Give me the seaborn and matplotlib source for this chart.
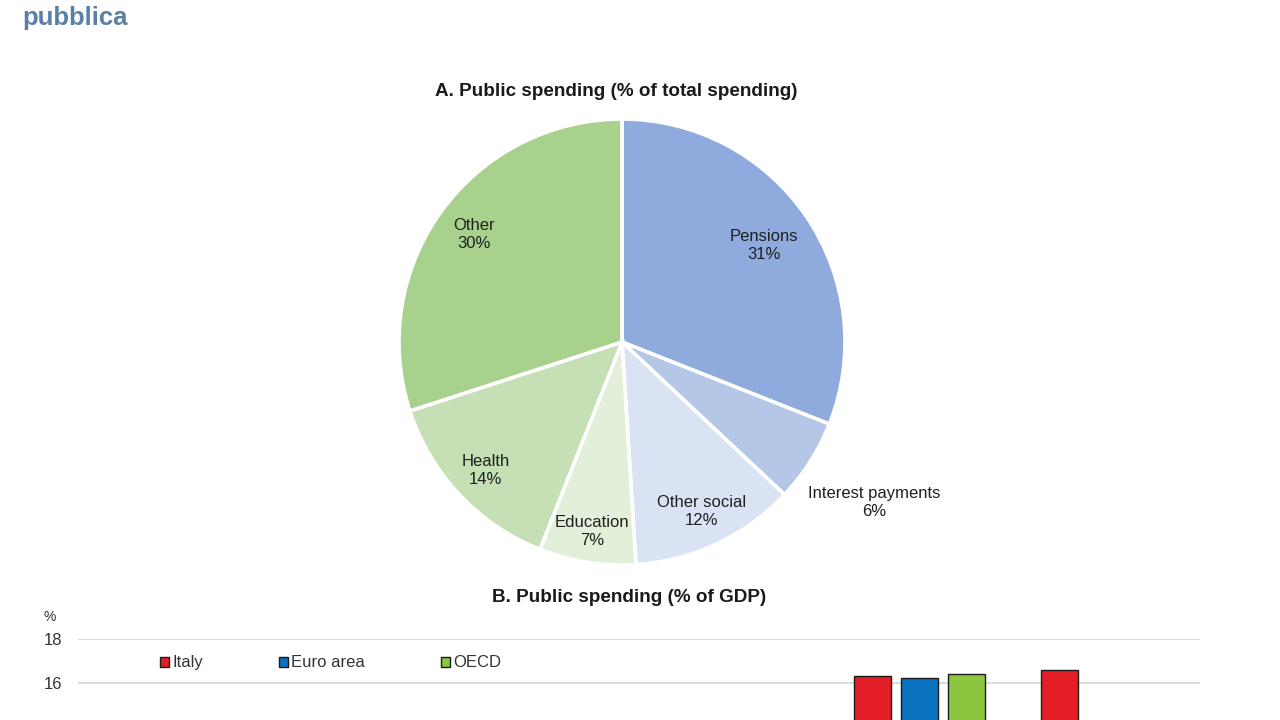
import numpy as np
import pandas as pd
import matplotlib
matplotlib.use("Agg")
import matplotlib.pyplot as plt
import seaborn as sns

# ---------------- data ----------------
page_title = "pubblica"
pie_title = "A. Public spending (% of total spending)"
pie_labels = ["Pensions", "Interest payments", "Other social", "Education", "Health", "Other"]
pie_values = [31, 6, 12, 7, 14, 30]

bar_title = "B. Public spending (% of GDP)"
bar_categories = ["Interest payments", "Education", "Health", "Other social", "Other", "Pensions"]
italy_values = [3.8, 3.9, 6.8, 5.9, 16.34, 16.61]
euro_values = [1.9, 4.6, 7.0, 8.1, 16.24, 12.3]
oecd_values = [1.7, 5.0, 6.4, 6.5, 16.43, 7.9]
series_names = ["Italy", "Euro area", "OECD"]
y_ticks = [14, 16, 18]

# ---------------- style ----------------
sns.set_theme(style="white")
plt.rcParams["font.family"] = ["Liberation Sans", "DejaVu Sans"]

pie_colors = ["#8faadc", "#b4c7e7", "#dae3f3", "#e2f0d9", "#c5e0b4", "#a9d18e"]
bar_colors = ["#e31e26", "#0b72bf", "#8cc63f"]

fig = plt.figure(figsize=(12.8, 7.2), dpi=100)

# page title
fig.text(22 / 1280, 1 - 18 / 720, page_title, fontsize=18.5, fontweight="bold",
         color="#5b80a8", ha="left", va="center")

# ---------------- pie ----------------
axp = fig.add_axes([399 / 1280, (720 - 565) / 720, 446 / 1280, 446 / 720])
wedges, _ = axp.pie(pie_values, colors=pie_colors, startangle=90, counterclock=False,
                    radius=1.0, wedgeprops=dict(edgecolor="white", linewidth=2.6))
axp.set_xlim(-1, 1)
axp.set_ylim(-1, 1)
axp.set_aspect("equal")
axp.axis("off")

label_dist = [0.77, 1.34, 0.84, 0.86, 0.84, 0.82]
for w, lab, val, d in zip(wedges, pie_labels, pie_values, label_dist):
    ang = np.deg2rad((w.theta1 + w.theta2) / 2)
    axp.text(d * np.cos(ang), d * np.sin(ang), f"{lab}\n{val}%", ha="center", va="center",
             fontsize=12, color="#1f1f1f", linespacing=1.25)

fig.text(616 / 1280, 1 - 91 / 720, pie_title, fontsize=13.6, fontweight="bold",
         color="#1a1a1a", ha="center", va="center")

# ---------------- bars ----------------
fig.text(629 / 1280, 1 - 598 / 720, bar_title, fontsize=13.6, fontweight="bold",
         color="#1a1a1a", ha="center", va="center")

top_px, unit_px = 639, 22.15
axb = fig.add_axes([78 / 1280, (720 - (top_px + 18 * unit_px)) / 720,
                    1122 / 1280, 18 * unit_px / 720])

df = pd.DataFrame({
    "category": bar_categories * 3,
    "value": italy_values + euro_values + oecd_values,
    "region": [series_names[0]] * len(bar_categories)
              + [series_names[1]] * len(bar_categories)
              + [series_names[2]] * len(bar_categories),
})
sns.barplot(data=df, x="category", y="value", hue="region", order=bar_categories,
            hue_order=series_names, palette=bar_colors, width=0.76, gap=0.22,
            edgecolor="#1a1a1a", linewidth=1.0, saturation=1, ax=axb)

axb.set_xlim(-0.5, len(bar_categories) - 0.5)
axb.set_ylim(0, 18)
axb.set_yticks(y_ticks)
axb.set_xticks(range(len(bar_categories)))
axb.set_xticklabels([""] * len(bar_categories))
axb.yaxis.grid(True, color="#d9d9d9", linewidth=1.3)
axb.set_axisbelow(True)
for s in axb.spines.values():
    s.set_visible(False)
axb.tick_params(axis="y", length=0, pad=11, labelsize=12, labelcolor="#333333")
axb.tick_params(axis="x", length=0)
axb.set_xlabel("")
axb.set_ylabel("")

handles, labels = axb.get_legend_handles_labels()
axb.legend(handles, labels, loc="center left", bbox_to_anchor=(0.073, 0.940),
           ncol=3, frameon=False, fontsize=12, borderpad=0, borderaxespad=0,
           handlelength=0.55, handleheight=0.55, handletextpad=0.2, columnspacing=4.55,
           labelcolor="#333333")

fig.text(50 / 1280, 1 - 617 / 720, "%", fontsize=10, color="#333333",
         ha="center", va="center")

fig.savefig("out.png", dpi=100)
